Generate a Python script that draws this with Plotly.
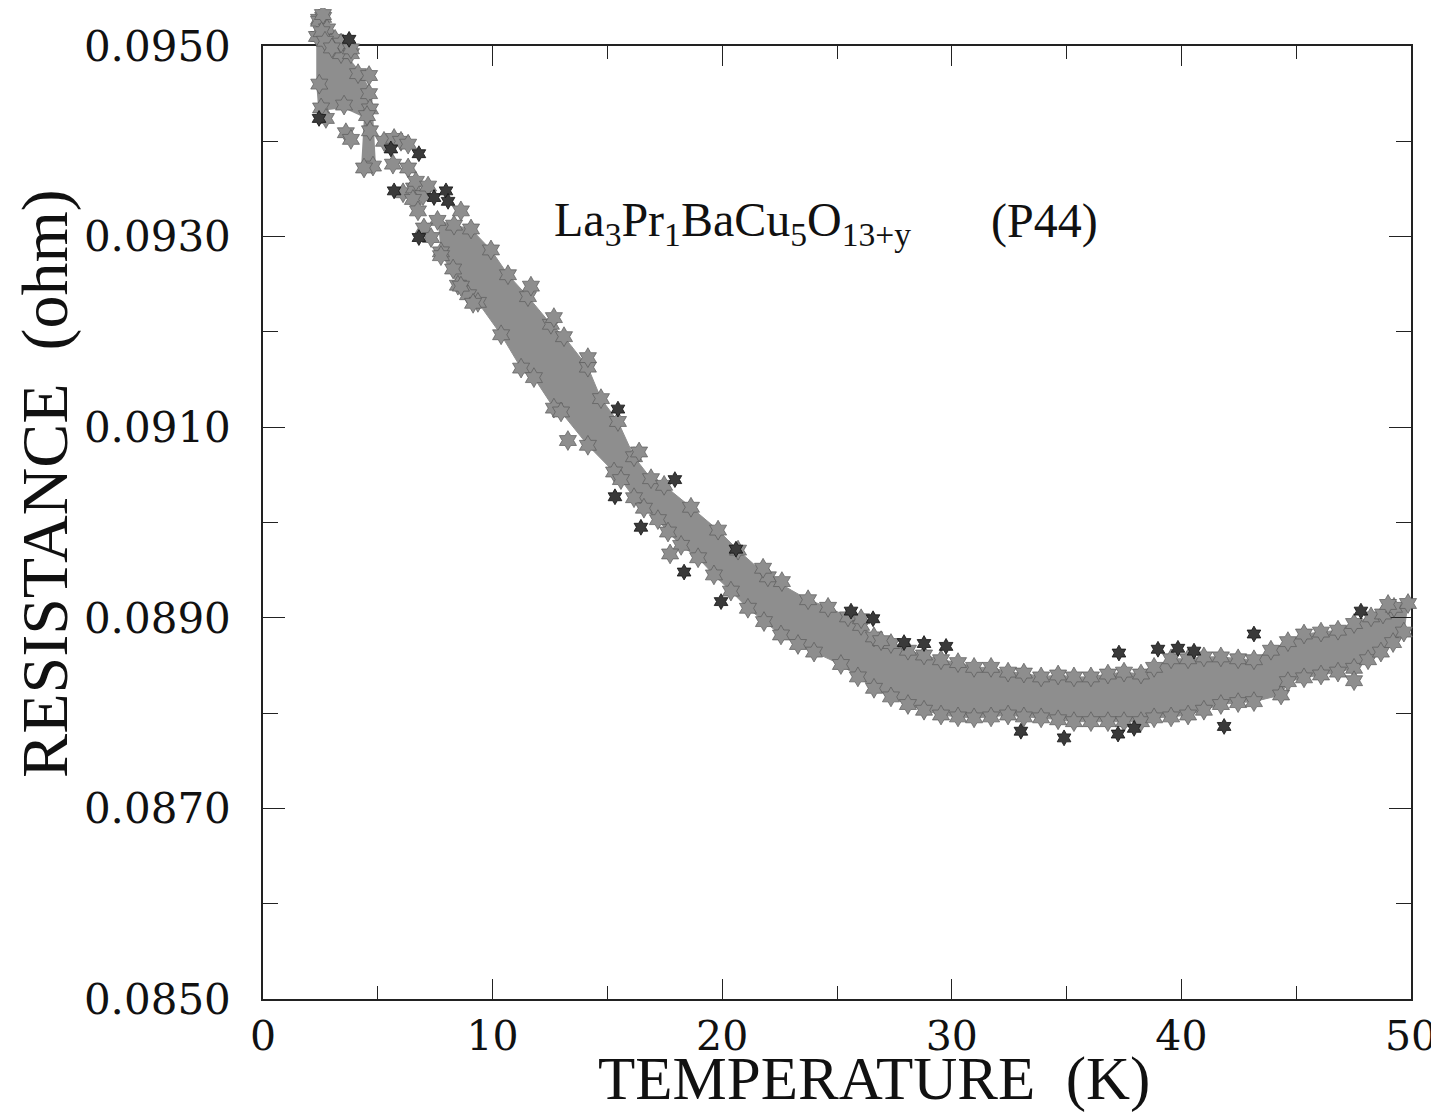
import plotly.graph_objects as go

# ---------------- data ----------------
# main band: upper edge of the dense point cloud
band_upper_T = [7.60, 8.32, 9.06, 9.93, 10.67, 11.54, 12.54, 13.11, 14.15, 14.72, 15.46, 16.16,
                16.90, 17.47, 18.64, 19.82, 20.69, 21.99, 23.74, 24.61, 25.48, 26.05, 26.61,
                27.35, 28.09, 28.79, 29.53, 30.27, 30.97, 31.71, 32.45, 33.14, 33.89, 34.63,
                35.32, 36.06, 36.80, 37.50, 38.24, 38.81, 39.55, 40.29, 40.98, 41.72, 42.47,
                43.16, 43.90, 44.64, 45.34, 46.08, 46.82, 47.52, 48.26, 48.78, 49.26, 49.87]
band_upper_R = [0.09317, 0.09312, 0.09308, 0.09286, 0.09260, 0.09237, 0.09208, 0.09195, 0.09163,
                0.09130, 0.09106, 0.09069, 0.09046, 0.09039, 0.09016, 0.08992, 0.08971, 0.08943,
                0.08919, 0.08911, 0.08901, 0.08892, 0.08880, 0.08873, 0.08866, 0.08861, 0.08856,
                0.08853, 0.08848, 0.08848, 0.08843, 0.08842, 0.08838, 0.08840, 0.08838, 0.08838,
                0.08841, 0.08843, 0.08841, 0.08848, 0.08857, 0.08857, 0.08859, 0.08859, 0.08857,
                0.08856, 0.08866, 0.08875, 0.08883, 0.08885, 0.08887, 0.08894, 0.08901, 0.08904,
                0.08911, 0.08915]
# main band: lower edge
band_lower_T = [7.75, 8.49, 8.93, 9.36, 10.37, 11.24, 11.80, 12.67, 12.98, 14.15, 15.29, 15.59,
                16.16, 16.59, 17.20, 17.64, 18.21, 18.95, 19.64, 20.38, 21.12, 21.82, 22.56,
                23.30, 24.00, 25.17, 25.91, 26.61, 27.35, 28.09, 28.79, 29.53, 30.27, 30.97,
                31.71, 32.45, 33.14, 33.89, 34.63, 35.32, 36.06, 36.80, 37.50, 38.24, 38.81,
                39.55, 40.29, 40.98, 41.72, 42.47, 43.16, 44.34, 44.64, 45.34, 46.08, 46.82,
                47.52, 48.13, 48.69, 49.22, 49.69]
band_lower_R = [0.09284, 0.09249, 0.09239, 0.09231, 0.09197, 0.09162, 0.09152, 0.09120, 0.09116,
                0.09081, 0.09053, 0.09045, 0.09026, 0.09015, 0.09003, 0.08990, 0.08976, 0.08963,
                0.08945, 0.08928, 0.08910, 0.08896, 0.08882, 0.08872, 0.08864, 0.08851, 0.08838,
                0.08826, 0.08817, 0.08809, 0.08803, 0.08798, 0.08796, 0.08795, 0.08796, 0.08798,
                0.08796, 0.08795, 0.08793, 0.08791, 0.08791, 0.08791, 0.08791, 0.08791, 0.08795,
                0.08796, 0.08798, 0.08803, 0.08809, 0.08811, 0.08812, 0.08819, 0.08833, 0.08837,
                0.08840, 0.08843, 0.08847, 0.08856, 0.08864, 0.08874, 0.08885]

# low-temperature blob outline (T < 5 K); it reaches above the top frame
blob_T = [2.44, 2.62, 2.83, 3.40, 4.14, 4.62, 4.66, 4.66, 4.79, 4.40, 4.53, 3.53, 2.53, 2.45, 2.45]
blob_R = [0.09528, 0.09530, 0.09509, 0.09492, 0.09471, 0.09450, 0.09434, 0.09411, 0.09374,
          0.09372, 0.09427, 0.09438, 0.09435, 0.09460, 0.09510]

# scattered individual points (grey)
grey_T = [3.83, 4.62, 2.74, 3.61, 3.83, 5.27, 5.71, 6.01, 6.32, 5.66, 6.32, 6.10, 6.58, 6.66,
          6.97, 6.53, 7.19, 8.62, 6.75, 7.01, 7.32, 7.75, 8.28, 8.62, 9.15,
          2.44, 2.79, 3.14, 2.35, 2.61, 3.40, 3.83, 2.55, 2.70, 3.00,
          11.67, 12.67, 14.15, 16.38, 13.28, 21.78, 22.60, 26.05, 26.92, 49.00, 47.52, 17.73]
grey_R = [0.09492, 0.09469, 0.09424, 0.09409, 0.09402, 0.09400, 0.09403, 0.09400, 0.09397,
          0.09376, 0.09372, 0.09346, 0.09351, 0.09358, 0.09343, 0.09339, 0.09353, 0.09327,
          0.09327, 0.09309, 0.09299, 0.09280, 0.09266, 0.09248, 0.09230,
          0.09526, 0.09518, 0.09507, 0.09510, 0.09533, 0.09503, 0.09497, 0.09515, 0.09505,
          0.09498,
          0.09248, 0.09215, 0.09173, 0.09074, 0.09086, 0.08952, 0.08938, 0.08899, 0.08876,
          0.08914, 0.08834, 0.08967]

# scattered individual points (dark)
dark_T = [3.75, 2.44, 5.57, 6.79, 5.71, 7.45, 7.97, 8.06, 6.79, 15.46, 17.94, 16.46, 18.34,
          19.95, 20.60, 15.33, 25.61, 26.57, 27.92, 28.79, 29.75, 33.01, 34.89, 37.24, 37.28,
          38.98, 39.85, 40.55, 37.94, 41.86, 43.16, 47.82]
dark_R = [0.09507, 0.09424, 0.09392, 0.09387, 0.09348, 0.09341, 0.09348, 0.09337, 0.09299,
          0.09119, 0.09045, 0.08995, 0.08948, 0.08917, 0.08972, 0.09027, 0.08907, 0.08899,
          0.08874, 0.08873, 0.08870, 0.08781, 0.08774, 0.08778, 0.08863, 0.08867, 0.08868,
          0.08865, 0.08784, 0.08786, 0.08883, 0.08907]

x_ticks = [0, 10, 20, 30, 40, 50]
y_ticks = [0.0850, 0.0870, 0.0890, 0.0910, 0.0930, 0.0950]
y_tick_text = ["0.0850", "0.0870", "0.0890", "0.0910", "0.0930", "0.0950"]
Y_MIN, Y_MAX = 0.0850, 0.0950

GREY = "#8e8e8e"
EDGE = "#5a5a5a"

# Geometry: framed plot 1148 x 953 px; a hidden twin y-axis (same scale) extends
# 38 px above the frame so that points above 0.0950 stay visible, as in the original.
FRAME_H = 953
TOTAL_H = 991
d_top = FRAME_H / TOTAL_H
y2_max = Y_MIN + (Y_MAX - Y_MIN) * TOTAL_H / FRAME_H

fig = go.Figure()

# dense band as filled region
fig.add_trace(go.Scatter(
    x=band_upper_T + band_lower_T[::-1],
    y=band_upper_R + band_lower_R[::-1],
    mode="lines", fill="toself", fillcolor=GREY, yaxis="y",
    line=dict(color=GREY, width=1), hoverinfo="skip", showlegend=False))
fig.add_trace(go.Scatter(
    x=blob_T, y=blob_R, yaxis="y2",
    mode="lines", fill="toself", fillcolor=GREY,
    line=dict(color=GREY, width=6), hoverinfo="skip", showlegend=False))

star = dict(symbol="hexagram", size=15, color=GREY, line=dict(color=EDGE, width=0.7))
for xs, ys in [(band_upper_T, band_upper_R), (band_lower_T, band_lower_R), (blob_T, blob_R),
               (grey_T, grey_R)]:
    fig.add_trace(go.Scatter(x=xs, y=ys, mode="markers", marker=star, yaxis="y2",
                             cliponaxis=False, showlegend=False))

fig.add_trace(go.Scatter(
    x=dark_T, y=dark_R, mode="markers", cliponaxis=False, showlegend=False, yaxis="y2",
    marker=dict(symbol="hexagram", size=12, color="#3a3a3a", line=dict(color="#111111", width=0.8))))

FONT_T = "DejaVu Serif"
FONT_A = "Liberation Serif"

# page body adds ~7 px offset; framed plot lands at x 262..1410, y 45..998
fig.update_layout(
    width=1439, height=1117,
    margin=dict(l=255, r=36, t=0, b=126, autoexpand=False),
    paper_bgcolor="white", plot_bgcolor="rgba(0,0,0,0)",
    showlegend=False,
    xaxis=dict(range=[0, 50], anchor="y", tickmode="array", tickvals=x_ticks,
               ticktext=[str(v) for v in x_ticks], automargin=False,
               ticks="inside", ticklen=20, tickwidth=1.3, tickcolor="#222",
               minor=dict(dtick=5, tick0=0, ticks="inside", ticklen=13, tickwidth=1.3,
                          tickcolor="#222", showgrid=False),
               showline=True, linecolor="#222", linewidth=1.5, mirror="ticks",
               showgrid=False, zeroline=False,
               tickfont=dict(family=FONT_T, size=41, color="#111"),
               ticklabelstandoff=0),
    yaxis=dict(range=[Y_MIN, Y_MAX], domain=[0, d_top], anchor="x", automargin=False,
               tickmode="array", tickvals=y_ticks, ticktext=y_tick_text,
               ticks="inside", ticklen=22, tickwidth=1.3, tickcolor="#222",
               minor=dict(dtick=0.001, tick0=0.085, ticks="inside", ticklen=15,
                          tickwidth=1.3, tickcolor="#222", showgrid=False),
               showline=True, linecolor="#222", linewidth=1.5, mirror="ticks",
               showgrid=False, zeroline=False,
               tickfont=dict(family=FONT_T, size=42, color="#111"),
               ticklabelstandoff=22),
    yaxis2=dict(range=[Y_MIN, y2_max], domain=[0, 1], anchor="x", visible=False,
                automargin=False, showgrid=False, zeroline=False),
    annotations=[
        dict(text="TEMPERATURE&nbsp;&nbsp;(K)", xref="paper", yref="paper",
             x=0.532, y=-80 / TOTAL_H, xanchor="center", yanchor="middle", showarrow=False,
             font=dict(family=FONT_A, size=61, color="#111")),
        dict(text="RESISTANCE&nbsp;&nbsp;(ohm)", xref="paper", yref="paper",
             x=-0.19, y=(998 - 482) / TOTAL_H, xanchor="center", yanchor="middle",
             showarrow=False, textangle=-90,
             font=dict(family=FONT_A, size=66, color="#111")),
        dict(text="La<sub>3</sub>Pr<sub>1</sub>BaCu<sub>5</sub>O<sub>13+y</sub>",
             xref="paper", yref="paper", x=(551 - 262) / 1148, y=(998 - 222) / TOTAL_H,
             xanchor="left", yanchor="middle", showarrow=False,
             font=dict(family=FONT_A, size=48, color="#111")),
        dict(text="(P44)", xref="paper", yref="paper", x=(1099 - 262) / 1148,
             y=(998 - 220) / TOTAL_H, xanchor="right", yanchor="middle", showarrow=False,
             font=dict(family=FONT_A, size=48, color="#111")),
    ],
)

fig.write_html("out.html")
